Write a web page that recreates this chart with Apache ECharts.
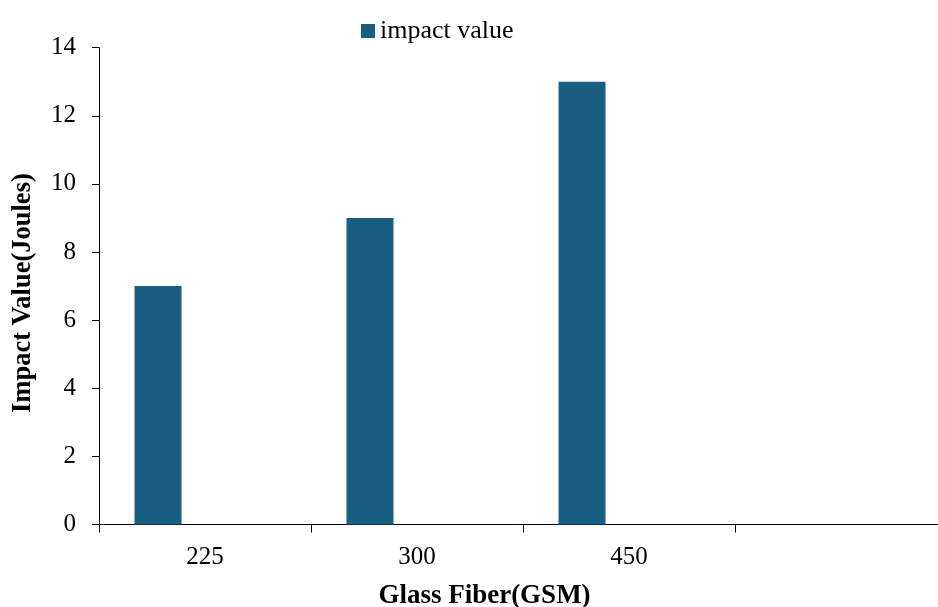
<!DOCTYPE html>
<html>
<head>
<meta charset="utf-8">
<script src="https://cdn.jsdelivr.net/npm/echarts@6/dist/echarts.min.js"></script>
<style>html,body{margin:0;padding:0;background:#fff}#c{width:938px;height:607px}</style>
</head>
<body>
<div id="c"></div>
<script>
const categories = ['225', '300', '450', ''];
const impactValue = [7, 9, 13, null];
const emptySeriesA = [];
const emptySeriesB = [];
const yTicks = [0, 2, 4, 6, 8, 10, 12, 14];

const FONT = '"Liberation Serif", "Times New Roman", serif';
const chart = echarts.init(document.getElementById('c'), null, {renderer: 'canvas'});
chart.setOption({
  animation: false,
  backgroundColor: '#fff',
  grid: {left: 99, right: -9, top: 47.7, bottom: 82.5, containLabel: false, outerBoundsMode: 'none'},
  legend: {
    data: ['impact value'],
    left: 356, top: 13,
    icon: 'rect', itemWidth: 14, itemHeight: 14, itemGap: 10,
    textStyle: {fontFamily: FONT, fontSize: 26, color: '#000', padding: [0, 0, 0, 0]}
  },
  xAxis: {
    type: 'category',
    data: categories,
    boundaryGap: true,
    name: 'Glass Fiber(GSM)',
    nameLocation: 'middle',
    nameGap: 58,
    nameTextStyle: {fontFamily: FONT, fontSize: 27, fontWeight: 'bold', color: '#000', padding: [0, 77, 0, 0]},
    axisLine: {lineStyle: {color: '#000', width: 1}},
    axisTick: {show: true, alignWithLabel: false, length: 8, lineStyle: {color: '#000'}},
    axisLabel: {fontFamily: FONT, fontSize: 25, color: '#000', margin: 20},
    splitLine: {show: false}
  },
  yAxis: {
    type: 'value',
    min: yTicks[0], max: yTicks[yTicks.length - 1], interval: 2,
    name: 'Impact Value(Joules)',
    nameLocation: 'middle',
    nameGap: 62,
    nameRotate: 90,
    nameTextStyle: {fontFamily: FONT, fontSize: 26.5, fontWeight: 'bold', color: '#000', padding: [0, 14, 0, 0]},
    axisLine: {show: true, lineStyle: {color: '#000', width: 1}},
    axisTick: {show: true, length: 7, inside: false, lineStyle: {color: '#000'}},
    axisLabel: {fontFamily: FONT, fontSize: 25, color: '#000', margin: 23},
    splitLine: {show: false}
  },
  series: [
    {name: 'impact value', type: 'bar', data: impactValue, barGap: '0%', barCategoryGap: '33.5%',
     itemStyle: {color: '#185E80'}},
    {name: 's2', type: 'bar', data: emptySeriesA, barGap: '0%', barCategoryGap: '33.5%', itemStyle: {color: '#8a2a2a'}},
    {name: 's3', type: 'bar', data: emptySeriesB, barGap: '0%', barCategoryGap: '33.5%', itemStyle: {color: '#6a8a2a'}}
  ]
});
</script>
</body>
</html>
